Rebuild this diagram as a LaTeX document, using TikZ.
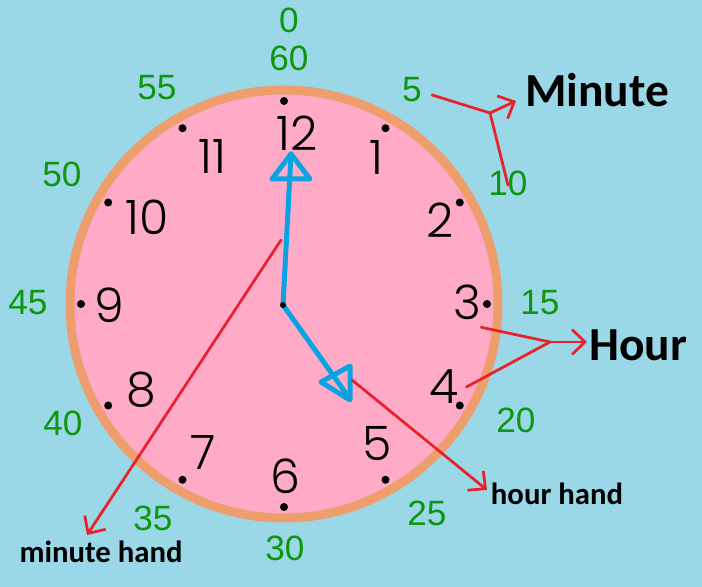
\documentclass[tikz,border=0pt]{standalone}
\usepackage{fontspec}
\setmainfont{Liberation Sans}
\newfontfamily\labelfont{Carlito}
\newfontfamily\dialfont{Poppins}[UprightFont=* Light]
\usetikzlibrary{arrows.meta}
\definecolor{sky}{HTML}{9AD8E8}
\definecolor{face}{HTML}{FFABC8}
\definecolor{rim}{HTML}{EE9D6C}
\definecolor{handblue}{HTML}{0AA3E2}
\definecolor{mingreen}{HTML}{0E960E}
\definecolor{penred}{HTML}{E8222A}
\begin{document}
\begin{tikzpicture}[x=0.2mm, y=-0.2mm]
        \tikzset{
            minute/.style = {inner sep=0, text=mingreen, font=\fontsize{20}{20}\selectfont},
            dial/.style   = {inner sep=0, font=\dialfont\fontsize{27}{27}\selectfont},
            title/.style  = {inner sep=0, font=\labelfont\bfseries\fontsize{27}{27}\selectfont},
            note/.style   = {inner sep=0, font=\labelfont\bfseries\fontsize{17.5}{17.5}\selectfont},
            pen/.style    = {draw=penred, line width=0.55mm, line cap=round, line join=round},
            hand/.style   = {draw=handblue, line width=1mm, line join=round, line cap=round}
        }
        \fill[sky] (0,0) rectangle (702,587);
        \useasboundingbox (0,0) rectangle (702,587);
        \coordinate (C) at (284,304);
        \filldraw[fill=face, draw=rim, line width=1.8mm] (C) circle[radius=42.8mm];
        \foreach \i in {0,...,11}
            \fill (C) ++(30*\i-90:203) circle[radius=0.8mm];

        \foreach \n/\x/\y in {12/297/133, 1/376/157, 2/440/220, 3/467/302, 4/444/387, 5/377/444,
                              6/285/476, 7/203/453, 8/141/390, 9/109/305, 10/147/217, 11/212/156}
            \node[dial] (h\n) at (\x,\y) {\n};
        \foreach \n/\x/\y in {0/289/20, 60/289/58, 5/412/90, 10/508/183, 15/540/303, 20/516/420, 25/427/513,
                              30/285/548, 35/153/518, 40/63/423, 45/28/303, 50/62/174, 55/157/88}
            \node[minute] (m\n) at (\x,\y) {\n};

        \node[title] (MIN) at (597,90) {Minute};
        \node[title] (HOUR) at (638,345) {Hour};
        \node[note] (HH) at (557,494) {hour hand};
        \node[note] (MH) at (101,552) {minute hand};

        \coordinate (P) at (283,305);
        \coordinate (MT) at (291,154);
        \coordinate (HT) at (350,399);
        \draw[hand] (P) -- (MT);
        \draw[hand] (MT) -- (272,179) -- (310,179) -- cycle;
        \draw[hand] (P) -- (HT);
        \draw[hand] (321,382) -- (350,366) -- (350,400) -- cycle;
        \fill (P) circle[radius=0.6mm];

        \coordinate (JM) at (490,113);
        \coordinate (JH) at (550,342);
        \draw[pen] ([xshift=2mm, yshift=-1mm]m5.east) -- (JM);
        \draw[pen] ([yshift=-3mm]m10.north) -- (JM);
        \draw[pen, -{Straight Barb[length=2.6mm, width=5mm]}] (JM) -- (516,101);
        \draw[pen] ([yshift=-1.5mm]h3.south east) -- (JH);
        \draw[pen] ([xshift=1.5mm]h4.east) -- (JH);
        \draw[pen, -{Straight Barb[length=2.6mm, width=5mm]}] (JH) -- (587,342);
        \draw[pen, -{Straight Barb[length=2.6mm, width=5mm]}] (352,380) -- (487,490);
        \draw[pen, -{Straight Barb[length=2.6mm, width=5mm]}] (281,240) -- (87,535);
    \end{tikzpicture}
\end{document}
